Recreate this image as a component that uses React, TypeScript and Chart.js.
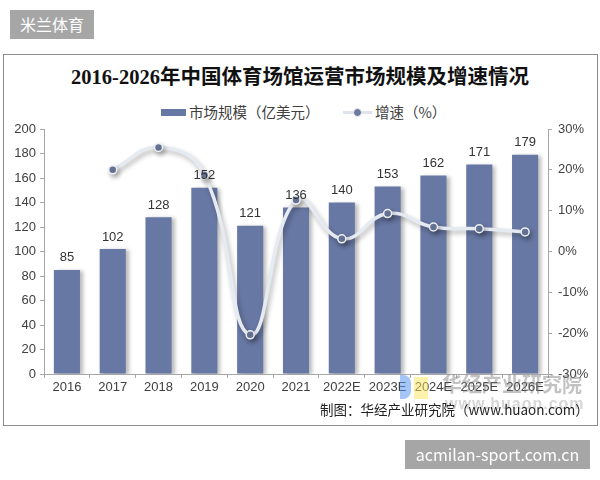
import { useEffect, useRef } from "react";
import { Chart, ChartConfiguration, registerables } from "chart.js";

Chart.register(...registerables);

const years = ["2016", "2017", "2018", "2019", "2020", "2021", "2022E", "2023E", "2024E", "2025E", "2026E"];
const marketSize = [85, 102, 128, 152, 121, 136, 140, 153, 162, 171, 179];
const growthRate = [null, 20.0, 25.5, 18.8, -20.4, 12.6, 3.1, 9.3, 6.0, 5.6, 4.8];

const BAR_COLOR = "#6878a4";
const TEXT_COLOR = "#404040";
const SANS = "'Liberation Sans', 'Noto Sans CJK SC', sans-serif";
const CJK = "'Noto Sans CJK SC', 'Liberation Sans', sans-serif";

// soft drop shadows under bars and line, like the Excel original
const shadowPlugin = {
  id: "shadows",
  beforeDatasetDraw(chart: any, args: any) {
    const ctx = chart.ctx;
    ctx.save();
    if (args.index === 0) {
      ctx.shadowColor = "rgba(0,0,0,0.28)";
      ctx.shadowBlur = 4;
      ctx.shadowOffsetX = 3;
      ctx.shadowOffsetY = 1;
    } else {
      ctx.shadowColor = "rgba(0,0,0,0.3)";
      ctx.shadowBlur = 5;
      ctx.shadowOffsetX = 2;
      ctx.shadowOffsetY = 3;
    }
  },
  afterDatasetDraw(chart: any) {
    chart.ctx.restore();
  },
};

// value labels above bars
const barLabelPlugin = {
  id: "barLabels",
  afterDatasetsDraw(chart: any) {
    const ctx = chart.ctx;
    const meta = chart.getDatasetMeta(0);
    ctx.save();
    ctx.font = `13px ${SANS}`;
    ctx.fillStyle = "#333";
    ctx.textAlign = "center";
    ctx.textBaseline = "middle";
    meta.data.forEach((bar: any, i: number) => {
      ctx.fillText(String(marketSize[i]), bar.x, bar.y - 12);
    });
    ctx.restore();
  },
};

function GrowthChart() {
  const canvasRef = useRef<HTMLCanvasElement>(null);
  const chartRef = useRef<Chart | null>(null);

  useEffect(() => {
    if (!canvasRef.current) return;
    const ctx = canvasRef.current.getContext("2d");
    if (!ctx) return;

    if (chartRef.current) chartRef.current.destroy();

    const tickFont = { family: SANS, size: 13 };

    const config: ChartConfiguration = {
      type: "bar",
      data: {
        labels: years,
        datasets: [
          {
            type: "bar",
            data: marketSize,
            backgroundColor: BAR_COLOR,
            borderWidth: 0,
            barPercentage: 0.57,
            categoryPercentage: 1,
            yAxisID: "y",
            order: 1,
          },
          {
            type: "line",
            data: growthRate as any,
            borderColor: "#e6eaf1",
            borderWidth: 3.5,
            tension: 0.45,
            spanGaps: false,
            pointRadius: 4,
            pointBackgroundColor: "#6b799c",
            pointBorderColor: "#eef1f6",
            pointBorderWidth: 1.5,
            yAxisID: "y1",
            order: 0,
          } as any,
        ],
      },
      options: {
        responsive: true,
        maintainAspectRatio: false,
        animation: false,
        layout: { padding: { left: 4, right: 12, top: 129, bottom: 80 } },
        plugins: {
          legend: { display: false },
          title: { display: false },
          tooltip: { enabled: false },
        },
        scales: {
          x: {
            offset: true,
            grid: { display: true, offset: true, drawOnChartArea: false, tickLength: 4, color: "#a6a6a6" },
            border: { display: true, color: "#a6a6a6" },
            ticks: { color: TEXT_COLOR, font: tickFont, padding: 2, maxRotation: 0, autoSkip: false },
            afterFit: (s: any) => {
              s.height = 26;
            },
          },
          y: {
            position: "left",
            min: 0,
            max: 200,
            ticks: { stepSize: 20, color: TEXT_COLOR, font: tickFont, padding: 4 },
            grid: { drawOnChartArea: false, tickLength: 4, color: "#a6a6a6" },
            border: { display: true, color: "#a6a6a6" },
            afterFit: (s: any) => {
              s.width = 40;
            },
          },
          y1: {
            position: "right",
            min: -30,
            max: 30,
            ticks: {
              stepSize: 10,
              color: TEXT_COLOR,
              font: tickFont,
              padding: 6,
              callback: (v: any) => `${v}%`,
            },
            grid: { drawOnChartArea: false, tickLength: 4, color: "#a6a6a6" },
            border: { display: true, color: "#a6a6a6" },
            afterFit: (s: any) => {
              s.width = 40;
            },
          },
        },
      },
      plugins: [shadowPlugin, barLabelPlugin],
    };

    chartRef.current = new Chart(ctx, config);

    return () => {
      if (chartRef.current) {
        chartRef.current.destroy();
        chartRef.current = null;
      }
    };
  }, []);

  return (
    <div style={{ position: "absolute", left: 0, top: 0, width: 600, height: 480 }}>
      <canvas ref={canvasRef} />
    </div>
  );
}

export default function App() {
  return (
    <div
      style={{
        position: "absolute",
        left: 0,
        top: 0,
        width: 600,
        height: 480,
        background: "#fff",
        overflow: "hidden",
        fontFamily: CJK,
      }}
    >
      {/* top-left site tag */}
      <div
        style={{
          position: "absolute",
          left: 10,
          top: 10,
          width: 84,
          height: 29,
          background: "#a6a6a6",
          color: "#fff",
          fontSize: 16,
          lineHeight: "29px",
          textAlign: "center",
        }}
      >
        米兰体育
      </div>

      {/* chart frame */}
      <div
        style={{
          position: "absolute",
          left: 3,
          top: 54,
          width: 593,
          height: 370,
          border: "1px solid #8c8c8c",
        }}
      />

      {/* title */}
      <div
        style={{
          position: "absolute",
          left: 0,
          top: 64,
          width: 600,
          textAlign: "center",
          fontSize: 20.5,
          fontWeight: "bold",
          color: "#111",
          fontFamily: "'Liberation Serif', 'Noto Sans CJK SC', serif",
          lineHeight: "26px",
          whiteSpace: "nowrap",
        }}
      >
        2016-2026年中国体育场馆运营市场规模及增速情况
      </div>

      {/* legend */}
      <div style={{ position: "absolute", left: 161, top: 109, width: 25, height: 7, background: BAR_COLOR }} />
      <div style={{ position: "absolute", left: 189, top: 102, fontSize: 14.5, color: TEXT_COLOR, lineHeight: "20px", whiteSpace: "nowrap" }}>
        市场规模（亿美元）
      </div>
      <div style={{ position: "absolute", left: 343, top: 111, width: 29, height: 3, background: "#dfe4ec" }} />
      <div
        style={{
          position: "absolute",
          left: 353,
          top: 108,
          width: 7,
          height: 7,
          borderRadius: "50%",
          background: "#6b799c",
          border: "1px solid #eef1f6",
        }}
      />
      <div style={{ position: "absolute", left: 375, top: 102, fontSize: 14.5, color: TEXT_COLOR, lineHeight: "20px", whiteSpace: "nowrap" }}>
        增速（%）
      </div>

      <GrowthChart />

      {/* watermark of the source */}
      <div style={{ position: "absolute", left: 400, top: 375, width: 11, height: 24, background: "rgba(90,150,240,0.55)", borderRadius: "0 8px 8px 0" }} />
      <div style={{ position: "absolute", left: 414, top: 377, width: 14, height: 22, background: "rgba(250,230,90,0.5)" }} />
      <div
        style={{
          position: "absolute",
          left: 442,
          top: 371,
          fontSize: 20,
          fontWeight: "bold",
          color: "rgba(120,120,120,0.45)",
          lineHeight: "26px",
          whiteSpace: "nowrap",
        }}
      >
        华经产业研究院
      </div>
      <div
        style={{
          position: "absolute",
          left: 445,
          top: 394,
          fontSize: 16,
          fontWeight: "bold",
          color: "rgba(120,120,120,0.3)",
          fontFamily: SANS,
          lineHeight: "20px",
          letterSpacing: 1,
          whiteSpace: "nowrap",
        }}
      >
        www.huaon.com
      </div>

      {/* source note */}
      <div
        style={{
          position: "absolute",
          left: 320,
          top: 399,
          fontSize: 13.5,
          color: "#222",
          lineHeight: "20px",
          whiteSpace: "nowrap",
        }}
      >
        制图：华经产业研究院（www.huaon.com）
      </div>

      {/* bottom-right site tag */}
      <div
        style={{
          position: "absolute",
          left: 405,
          top: 440,
          width: 185,
          height: 29,
          background: "#a6a6a6",
          color: "#fff",
          fontSize: 16,
          lineHeight: "29px",
          textAlign: "center",
          fontFamily: CJK,
        }}
      >
        acmilan-sport.com.cn
      </div>
    </div>
  );
}
